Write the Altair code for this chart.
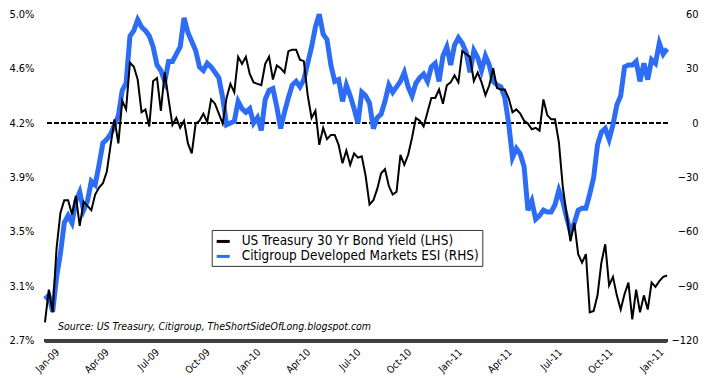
import altair as alt
import pandas as pd
import numpy as np

start_date = "2008-12-16"

yield_30y = [
    2.83, 3.06, 2.90, 3.35, 3.60, 3.69, 3.69, 3.59, 3.72, 3.51,
    3.68, 3.65, 3.62, 3.73, 3.78, 3.81, 3.89, 4.08, 4.26, 4.09,
    4.39, 4.33, 4.66, 4.63, 4.54, 4.31, 4.33, 4.21, 4.53, 4.55,
    4.32, 4.59, 4.40, 4.22, 4.27, 4.20, 4.25, 4.09, 4.02, 4.23,
    4.25, 4.30, 4.24, 4.40, 4.37, 4.30, 4.23, 4.41, 4.51, 4.45,
    4.70, 4.65, 4.70, 4.58, 4.52, 4.51, 4.50, 4.65, 4.70, 4.54,
    4.64, 4.62, 4.59, 4.74, 4.75, 4.75, 4.68, 4.67, 4.43, 4.27,
    4.32, 4.08, 4.20, 4.12, 4.15, 4.15, 4.08, 3.95, 4.04, 3.94,
    4.02, 3.99, 4.00, 3.86, 3.66, 3.69, 3.77, 3.88, 3.91, 3.79,
    3.73, 3.75, 4.01, 3.94, 4.01, 4.13, 4.27, 4.25, 4.21, 4.31,
    4.41, 4.41, 4.47, 4.37, 4.50, 4.52, 4.57, 4.52, 4.74, 4.72,
    4.70, 4.53, 4.59, 4.52, 4.43, 4.50, 4.62, 4.48, 4.47, 4.47,
    4.41, 4.31, 4.33, 4.30, 4.25, 4.23, 4.19, 4.20, 4.18, 4.40,
    4.29, 4.26, 4.26, 4.10, 3.79, 3.59, 3.40, 3.53, 3.31, 3.25,
    3.31, 2.90, 2.91, 3.02, 3.25, 3.38, 3.09, 3.15, 3.02, 2.92,
    3.03, 3.11, 2.85, 3.06, 2.90, 3.02, 2.92, 3.11, 3.08, 3.12,
    3.15, 3.16,
]

esi = [
    -97, -95, -104, -85, -72, -55, -51, -55, -43, -38,
    -48, -43, -32, -34, -23, -11, -9, -6, -1, 4,
    18, 22, 48, 51, 57, 53, 51, 48, 42, 32,
    29, 23, 34, 34, 38, 42, 58, 50, 45, 40,
    31, 29, 33, 31, 28, 25, 14, -1, 0, 1,
    12, 8, 6, 8, 0, 3, -4, 13, 18, 19,
    9, -3, 6, 14, 21, 23, 20, 24, 33, 42,
    53, 60, 49, 46, 32, 23, 24, 12, 21, 15,
    8, 0, 17, 15, 11, -3, 3, 5, 12, 21,
    17, 20, 23, 28, 20, 15, 22, 25, 27, 23,
    31, 33, 23, 37, 42, 32, 43, 47, 44, 39,
    28, 40, 36, 29, 37, 32, 23, 21, 20, 14,
    0, -19, -14, -17, -24, -48, -43, -53, -51, -48,
    -49, -49, -45, -37, -43, -52, -60, -55, -48, -47,
    -47, -39, -30, -12, -5, -3, -9, -1, 10, 15,
    31, 32, 32, 34, 23, 33, 24, 35, 33, 44,
    38, 41,
]

series_names = [
    "US Treasury 30 Yr Bond Yield (LHS)",
    "Citigroup Developed Markets ESI (RHS)",
]
series_colors = ["#000000", "#2D6DF6"]

x_tick_dates = [
    "2009-01-01", "2009-04-01", "2009-07-01", "2009-10-01",
    "2010-01-01", "2010-04-01", "2010-07-01", "2010-10-01",
    "2011-01-01", "2011-04-01", "2011-07-01", "2011-10-01",
    "2012-01-01",
]
x_tick_labels = [
    "Jan-09", "Apr-09", "Jul-09", "Oct-09",
    "Jan-10", "Apr-10", "Jul-10", "Oct-10",
    "Jan-11", "Apr-11", "Jul-11", "Oct-11",
    "Jan-11",
]

left_min, left_max = 2.7, 5.0
left_tick_labels = ["2.7%", "3.1%", "3.5%", "3.9%", "4.2%", "4.6%", "5.0%"]
right_min, right_max = -120, 60
right_ticks = [-120, -90, -60, -30, 0, 30, 60]

source_text = "Source: US Treasury, Citigroup, TheShortSideOfLong.blogspot.com"

# ---- build table ----
dates = pd.date_range(start_date, periods=len(yield_30y), freq="7D")
df = pd.DataFrame({"date": dates, "yield": yield_30y, "esi": esi})

FONT = "DejaVu Sans Condensed, Liberation Sans, sans-serif"

x_domain = [dates[0].isoformat(), dates[-1].isoformat()]
x_label_expr = (
    "[" + ",".join("'" + s + "'" for s in x_tick_labels) + "]"
    "[(year(datum.value)-2009)*4 + floor(month(datum.value)/3)]"
)
left_ticks = [float(v) for v in np.linspace(left_min, left_max, len(left_tick_labels))]
left_step = (left_max - left_min) / (len(left_tick_labels) - 1)
left_label_expr = (
    "[" + ",".join("'" + s + "'" for s in left_tick_labels) + "]"
    f"[round((datum.value-{left_min})/{left_step})]"
)

x_enc = alt.X(
    "date:T",
    scale=alt.Scale(domain=x_domain, nice=False),
    axis=alt.Axis(
        title=None,
        values=x_tick_dates,
        labelExpr=x_label_expr,
        labelAngle=315,
        labelAlign="right",
        labelBaseline="top",
        labelFontSize=10,
        labelFont=FONT,
        labelPadding=6,
        labelColor="#000",
        ticks=False,
        grid=False,
        domain=False,
        labelOverlap=False,
    ),
)

color_scale = alt.Scale(domain=series_names, range=series_colors)
legend = alt.Legend(
    title=None,
    orient="none",
    legendX=167,
    legendY=216,
    direction="vertical",
    strokeColor="#333333",
    fillColor="#ffffff",
    padding=3,
    rowPadding=0,
    symbolType="stroke",
    symbolSize=170,
    symbolStrokeWidth=3,
    labelFont=FONT,
    labelFontSize=13.5,
    labelLimit=500,
    labelColor="#000",
    labelOffset=10,
)
color_enc = alt.Color("series:N", scale=color_scale, legend=legend)

right_scale = alt.Scale(domain=[right_min, right_max], nice=False, zero=False)
left_scale = alt.Scale(domain=[left_min, left_max], nice=False, zero=False)
right_axis = alt.Axis(
    orient="right",
    title=None,
    values=right_ticks,
    labelAlign="right",
    labelPadding=31,
    labelFont=FONT,
    labelFontSize=11,
    labelColor="#000",
    ticks=False,
    domain=False,
    grid=False,
)

zero_rule = alt.Chart(df).mark_rule(
    color="#000", strokeWidth=1.5, strokeDash=[4, 3]
).encode(
    y=alt.Y(datum=0, type="quantitative", scale=right_scale, axis=right_axis)
)

base_rule = alt.Chart(df).mark_rule(
    color="#404040", strokeWidth=3
).encode(
    y=alt.Y(datum=right_min, type="quantitative", scale=right_scale, axis=right_axis)
)

esi_line = alt.Chart(df).transform_calculate(
    series=f"'{series_names[1]}'"
).mark_line(strokeWidth=5).encode(
    x=x_enc,
    y=alt.Y("esi:Q", scale=right_scale, axis=right_axis),
    color=color_enc,
)

yield_line = alt.Chart(df).transform_calculate(
    series=f"'{series_names[0]}'"
).mark_line(strokeWidth=2).encode(
    x=x_enc,
    y=alt.Y(
        "yield:Q",
        scale=left_scale,
        axis=alt.Axis(
            orient="left",
            title=None,
            values=left_ticks,
            labelExpr=left_label_expr,
            labelPadding=11,
            labelFont=FONT,
            labelFontSize=11,
            labelColor="#000",
            ticks=False,
            domain=False,
            grid=False,
        ),
    ),
    color=color_enc,
)

source = alt.Chart(pd.DataFrame({"t": [source_text]})).mark_text(
    align="left", baseline="alphabetic", fontStyle="italic",
    font=FONT, fontSize=10.5, color="#000",
).encode(
    text="t:N",
    x=alt.value(13),
    y=alt.value(316),
)

chart = alt.layer(
    alt.layer(zero_rule, base_rule, esi_line),
    yield_line,
    source,
).resolve_scale(y="independent").properties(
    width=623,
    height=327,
    padding={"left": 37, "top": 6, "right": 40, "bottom": 40},
    autosize=alt.AutoSizeParams(type="none"),
    background="#ffffff",
).configure_view(stroke=None)

chart.save("out.html", embed_options={"renderer": "svg", "actions": False})
